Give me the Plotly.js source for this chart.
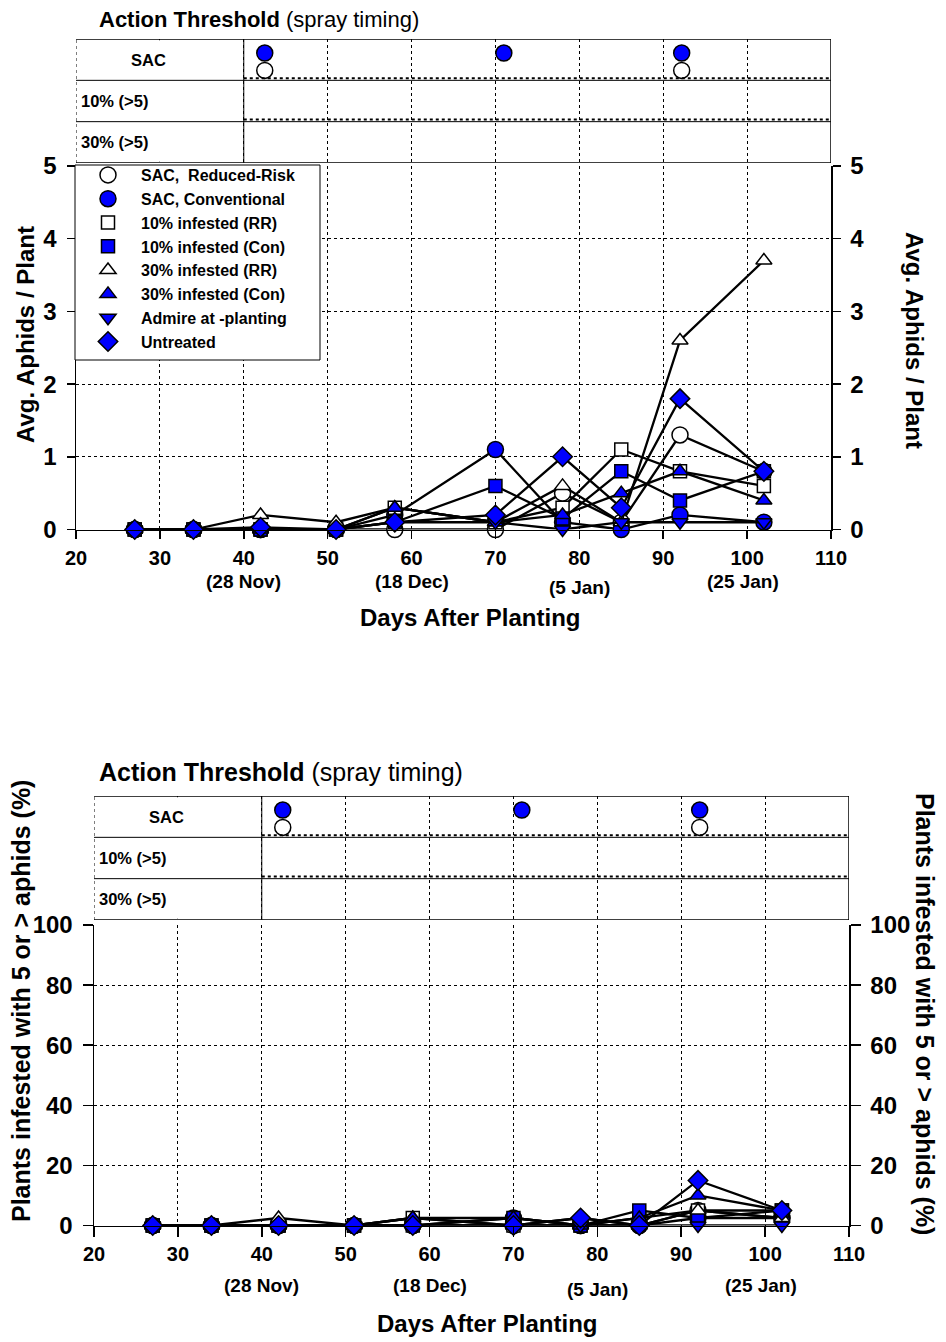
<!DOCTYPE html>
<html><head><meta charset="utf-8">
<script src="https://cdn.plot.ly/plotly-3.0.1.min.js"></script>
<style>html,body{margin:0;padding:0;background:#fff}</style>
</head><body><div id="chart" style="width:946px;height:1342px"></div>
<script>
// ---------------- DATA ----------------
const days = [27, 34, 42, 51, 58, 70, 78, 85, 92, 102];
const seriesNames = ['SAC,\u00a0 Reduced-Risk', 'SAC, Conventional', '10% infested (RR)', '10% infested (Con)',
  '30% infested (RR)', '30% infested (Con)', 'Admire at -planting', 'Untreated'];

// Avg. aphids / plant (top chart)
const aphidsSacRR    = [0, 0, 0,    0,   0,   0,   0.5, 0.1, 1.3, 0.8];
const aphidsSacCon   = [0, 0, 0,    0,   0.2, 1.1, 0.1, 0,   0.2, 0.1];
const aphids10RR     = [0, 0, 0,    0,   0.3, 0.1, 0.3, 1.1, 0.8, 0.6];
const aphids10Con    = [0, 0, 0,    0,   0.1, 0.6, 0.15,0.8, 0.4, 0.8];
const aphids30RR     = [0, 0, 0.2,  0.1, 0.3, 0.1, 0.6, 0.1, 2.6, 3.7];
const aphids30Con    = [0, 0, 0,    0,   0.3, 0.1, 0.2, 0.5, 0.8, 0.4];
const aphidsAdmire   = [0, 0, 0,    0,   0.1, 0.1, 0,   0.1, 0.1, 0.1];
const aphidsUntreat  = [0, 0, 0.03, 0,   0.1, 0.2, 1.0, 0.3, 1.8, 0.8];

// Plants infested with 5 or > aphids (%) (bottom chart)
const pctSacRR   = [0, 0, 0,   0, 0,   0,   0,   0,   5,   2.5];
const pctSacCon  = [0, 0, 0,   0, 0,   2.5, 0,   0,   2.5, 2.5];
const pct10RR    = [0, 0, 0,   0, 2.5, 0,   0,   2.5, 5,   5];
const pct10Con   = [0, 0, 0,   0, 0,   2.5, 0,   5,   2.5, 5];
const pct30RR    = [0, 0, 2.5, 0, 2.5, 0,   2.5, 0,   5,   2.5];
const pct30Con   = [0, 0, 0,   0, 2.5, 2.5, 0,   2.5, 10,  5];
const pctAdmire  = [0, 0, 0,   0, 0,   0,   0,   0,   0,   0];
const pctUntreat = [0, 0, 0,   0, 0,   0,   2.5, 0,   15,  5];

// Action threshold spray timing (days after planting)
const sprayDaysSacCon = [42.5, 71, 92.2];
const sprayDaysSacRR  = [42.5, 92.2];

const rowLabels = ['SAC', '10% (>5)', '30% (>5)'];
const dateLabels = ['(28 Nov)', '(18 Dec)', '(5 Jan)', '(25 Jan)'];
const dateLabelDays = [40, 60, 80, 99.5];

// ---------------- STYLE ----------------
const FONT = 'Arial, "Liberation Sans", sans-serif';
const BLUE = '#0000ff';
const W = 946, H = 1342;
const fx = p => p / W;
const fy = p => 1 - p / H;

const symbols = ['circle', 'circle', 'square', 'square', 'triangle-up', 'triangle-up', 'triangle-down', 'diamond'];
const fills = ['white', BLUE, 'white', BLUE, 'white', BLUE, BLUE, BLUE];
const sizes = [16, 16, 13, 13, 14, 14, 14, 15];

const topSeries = [aphidsSacRR, aphidsSacCon, aphids10RR, aphids10Con, aphids30RR, aphids30Con, aphidsAdmire, aphidsUntreat];
const botSeries = [pctSacRR, pctSacCon, pct10RR, pct10Con, pct30RR, pct30Con, pctAdmire, pctUntreat];

const traces = [];
function addSeries(vals, i, xa, ya, legend) {
  traces.push({x: days, y: vals, xaxis: xa, yaxis: ya, mode: 'lines', type: 'scatter',
    line: {color: 'black', width: 2.3}, showlegend: false, hoverinfo: 'skip'});
  traces.push({x: days, y: vals, xaxis: xa, yaxis: ya, mode: 'markers', type: 'scatter',
    name: seriesNames[i], showlegend: legend, legendgroup: 'g' + i,
    marker: {symbol: symbols[i], color: fills[i], size: sizes[i], line: {color: 'black', width: 1.5}},
    cliponaxis: false});
}
topSeries.forEach((v, i) => addSeries(v, i, 'x', 'y', true));
botSeries.forEach((v, i) => addSeries(v, i, 'x2', 'y2', false));

// spray timing dots
const ROW_SAC_CON = 2.66, ROW_SAC_RR = 2.24;
[['x3', 'y3'], ['x4', 'y4']].forEach(([xa, ya]) => {
  traces.push({x: sprayDaysSacRR, y: sprayDaysSacRR.map(() => ROW_SAC_RR), xaxis: xa, yaxis: ya,
    mode: 'markers', type: 'scatter', showlegend: false,
    marker: {symbol: 'circle', color: 'white', size: 16, line: {color: 'black', width: 1.5}}, cliponaxis: false});
  traces.push({x: sprayDaysSacCon, y: sprayDaysSacCon.map(() => ROW_SAC_CON), xaxis: xa, yaxis: ya,
    mode: 'markers', type: 'scatter', showlegend: false,
    marker: {symbol: 'circle', color: BLUE, size: 16, line: {color: 'black', width: 1.5}}, cliponaxis: false});
});
// carriers for right-hand axes
traces.push({x: [], y: [], xaxis: 'x', yaxis: 'y5', showlegend: false, type: 'scatter'});
traces.push({x: [], y: [], xaxis: 'x2', yaxis: 'y6', showlegend: false, type: 'scatter'});

const tickFontX = {family: FONT, size: 20, color: 'black', weight: 'bold'};
const tickFontY = {family: FONT, size: 24, color: 'black', weight: 'bold'};

function mainX(x0, x1, anchor, tl, so) {
  return {domain: [fx(x0), fx(x1)], anchor: anchor, range: [20, 110], tick0: 20, dtick: 10,
    ticks: 'outside', ticklen: tl, tickwidth: 1.5, tickcolor: 'black',
    showline: true, linecolor: 'black', linewidth: 1.5,
    showgrid: true, gridcolor: 'black', griddash: 'dot', gridwidth: 1, zeroline: false,
    tickfont: tickFontX, ticklabelstandoff: so, fixedrange: true};
}
function mainY(y0, y1, anchor, rng, dt, side, overlay, tl, grid) {
  const a = {domain: [fy(y1), fy(y0)], anchor: anchor, range: rng, dtick: dt, tick0: 0,
    ticks: 'outside', ticklen: tl, tickwidth: 1.5, tickcolor: 'black',
    showline: true, linecolor: 'black', linewidth: 1.5,
    showgrid: grid, gridcolor: 'black', griddash: 'dot', gridwidth: 1, zeroline: false,
    tickfont: tickFontY, ticklabelstandoff: 5, side: side, fixedrange: true};
  if (overlay) a.overlaying = overlay;
  return a;
}
function thrX(x0, x1, anchor) {
  return {domain: [fx(x0), fx(x1)], anchor: anchor, range: [20, 110], tick0: 20, dtick: 10,
    showticklabels: false, ticks: '', showline: false, zeroline: false,
    showgrid: true, gridcolor: 'black', griddash: 'dot', gridwidth: 1, fixedrange: true};
}
function thrY(y0, y1, anchor) {
  return {domain: [fy(y1), fy(y0)], anchor: anchor, range: [0, 3], showticklabels: false, ticks: '',
    showline: false, zeroline: false, showgrid: false, fixedrange: true};
}

const shapes = [];
function thresholdShapes(xr, yr) {
  const base = {xref: xr, yref: yr, type: 'line'};
  shapes.push({xref: xr, yref: yr, type: 'rect', x0: 20.25, x1: 39.85, y0: 0.03, y1: 2.97,
    fillcolor: 'white', line: {width: 0}, layer: 'between'});
  const solid = {color: 'black', width: 1.5};
  shapes.push(Object.assign({}, base, {x0: 20, x1: 110, y0: 3, y1: 3, line: solid}));
  shapes.push(Object.assign({}, base, {x0: 20, x1: 110, y0: 0, y1: 0, line: solid}));
  shapes.push(Object.assign({}, base, {x0: 110, x1: 110, y0: 0, y1: 3, line: solid}));
  shapes.push(Object.assign({}, base, {x0: 40, x1: 40, y0: 0, y1: 3, line: {color: 'black', width: 1}}));
  [1, 2].forEach(r => {
    shapes.push(Object.assign({}, base, {x0: 20, x1: 110, y0: r, y1: r, line: {color: 'black', width: 1}}));
    shapes.push(Object.assign({}, base, {x0: 40, x1: 110, y0: r + 0.05, y1: r + 0.05,
      line: {color: 'black', width: 2, dash: 'dot'}}));
  });
  shapes.push(Object.assign({}, base, {x0: 20, x1: 20, y0: 0, y1: 3, line: {color: 'black', width: 1, dash: 'dot'}}));
}
thresholdShapes('x3', 'y3');
thresholdShapes('x4', 'y4');
// legend frame (white box covering the grid behind the legend)
shapes.push({xref: 'paper', yref: 'paper', type: 'rect', x0: fx(75), x1: fx(320), y0: fy(360), y1: fy(165),
  fillcolor: 'white', line: {color: 'black', width: 1}, layer: 'above'});

const annotations = [];
function thresholdText(xr, yr, titleY, titleSize) {
  annotations.push({xref: 'paper', yref: 'paper', x: fx(97), y: fy(titleY), xanchor: 'left', yanchor: 'middle',
    text: '<b>Action Threshold</b> (spray timing)', showarrow: false,
    font: {family: FONT, size: titleSize, color: 'black'}});
  rowLabels.forEach((t, k) => {
    const yv = 2.5 - k;
    const f = {family: FONT, size: 16.5, color: 'black', weight: 'bold'};
    if (k === 0) {
      annotations.push({xref: xr, yref: yr, x: 28.6, y: yv, xanchor: 'center', yanchor: 'middle',
        text: t, showarrow: false, font: f});
    } else {
      annotations.push({xref: xr, yref: yr, x: 20.3, y: yv, xanchor: 'left', yanchor: 'middle',
        text: t, showarrow: false, font: f});
    }
  });
}
thresholdText('x3', 'y3', 19, 22);
thresholdText('x4', 'y4', 772, 25);

function dateText(xr, yPx, drop) {
  dateLabels.forEach((t, k) => {
    annotations.push({xref: xr, yref: 'paper', x: dateLabelDays[k], y: fy(yPx + (k === 2 ? drop : 0)),
      xanchor: 'center', yanchor: 'middle', text: t, showarrow: false,
      font: {family: FONT, size: 19, color: 'black', weight: 'bold'}});
  });
}
dateText('x', 581, 6);
dateText('x2', 1285, 4);

function axisTitle(text, xPx, yPx, angle, size) {
  annotations.push({xref: 'paper', yref: 'paper', x: fx(xPx), y: fy(yPx), xanchor: 'center', yanchor: 'middle',
    text: text, textangle: angle, showarrow: false, font: {family: FONT, size: size, color: 'black', weight: 'bold'}});
}
axisTitle('Avg. Aphids / Plant', 25, 335, -90, 24);
axisTitle('Avg. Aphids / Plant', 915, 340, 90, 24);
axisTitle('Days After Planting', 470, 617, 0, 24);
axisTitle('Plants infested with 5 or > aphids (%)', 21, 1001, -90, 25);
axisTitle('Plants infested with 5 or > aphids (%)', 925, 1014, 90, 25);
axisTitle('Days After Planting', 488, 1323, 0, 24);

const layout = {
  width: W, height: H, margin: {l: 0, r: 0, t: 0, b: 0},
  paper_bgcolor: 'white', plot_bgcolor: 'rgba(0,0,0,0)',
  font: {family: FONT, color: 'black'},
  xaxis: mainX(76, 831, 'y', 8, 2),
  yaxis: mainY(166, 529.5, 'x', [0, 5], 1, 'left', null, 8, true),
  yaxis5: mainY(166, 529.5, 'x', [0, 5], 1, 'right', 'y', 8, false),
  xaxis2: mainX(94, 849, 'y2', 10, 0),
  yaxis2: mainY(925, 1225.5, 'x2', [0, 100], 20, 'left', null, 10, true),
  yaxis6: mainY(925, 1225.5, 'x2', [0, 100], 20, 'right', 'y2', 10, false),
  xaxis3: thrX(76, 831, 'y3'),
  yaxis3: thrY(39, 163, 'x3'),
  xaxis4: thrX(94, 849, 'y4'),
  yaxis4: thrY(796, 920, 'x4'),
  shapes: shapes,
  annotations: annotations,
  showlegend: true,
  legend: {x: fx(75), y: fy(158), xanchor: 'left', yanchor: 'top', bgcolor: 'rgba(0,0,0,0)',
    borderwidth: 0, itemwidth: 56, traceorder: 'normal', tracegroupgap: 0,
    font: {family: FONT, size: 16, color: 'black', weight: 'bold'}, itemclick: false, itemdoubleclick: false}
};

Plotly.newPlot('chart', traces, layout, {displayModeBar: false, staticPlot: true});
</script>
</body></html>
